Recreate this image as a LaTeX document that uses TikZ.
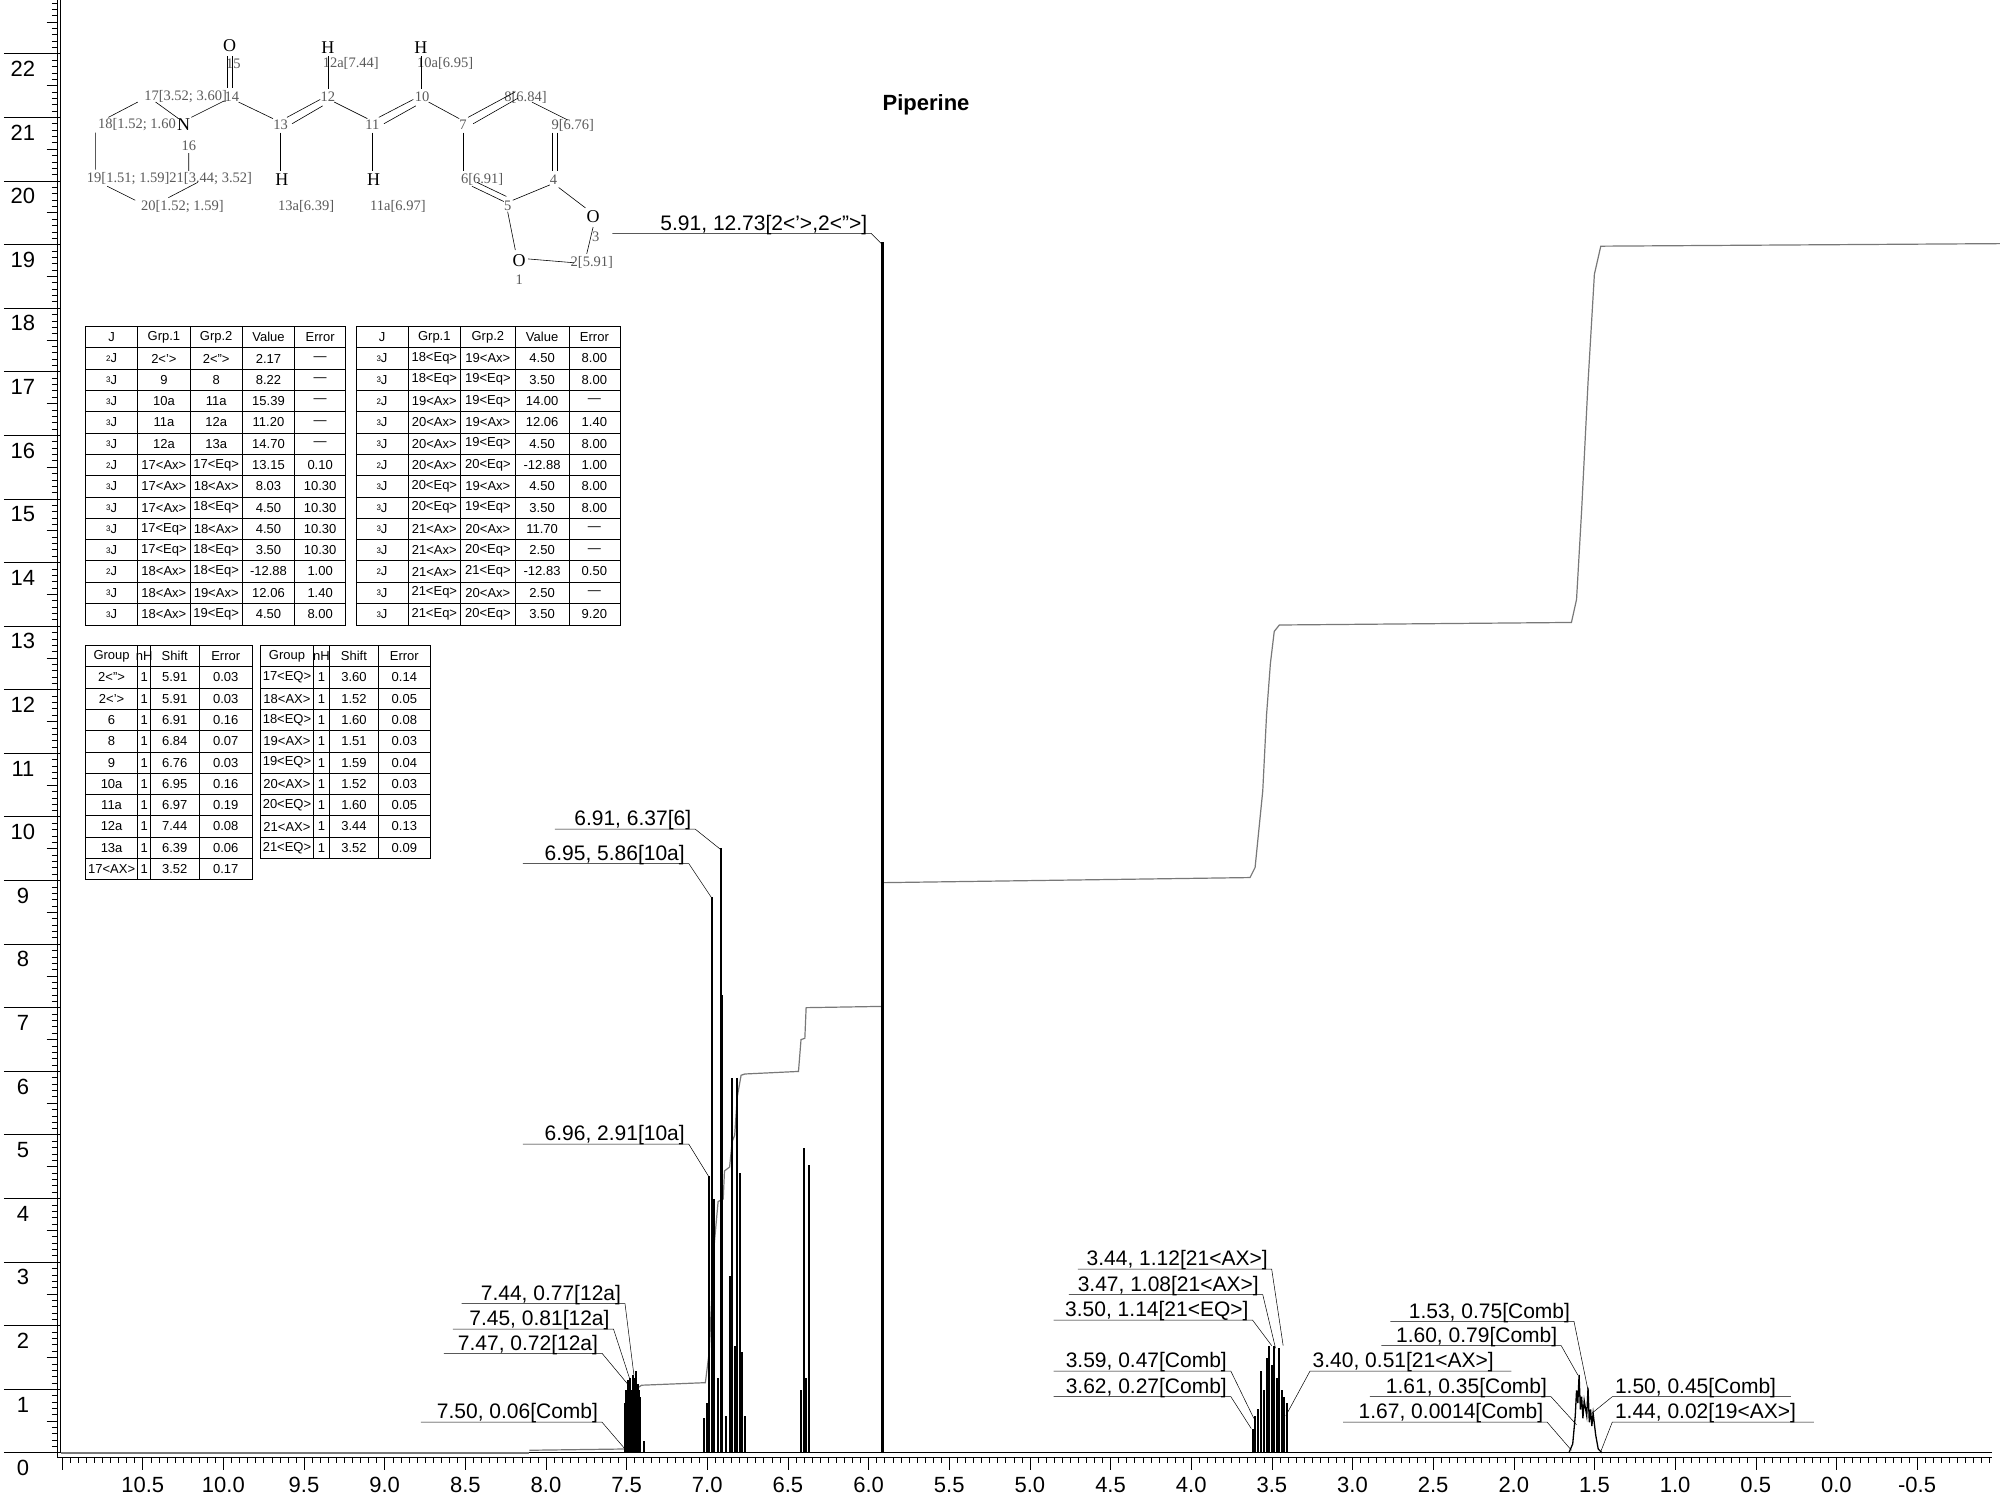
\documentclass[tikz,border=0pt]{standalone}
\usepackage{fontspec}
\setmainfont{Liberation Sans}
\newfontfamily\serf{Liberation Serif}
\definecolor{intg}{RGB}{120,120,120}
\definecolor{sgray}{RGB}{90,90,90}
\newcommand\sJ[1]{\raisebox{0.2ex}{\fontsize{8}{8}\selectfont #1}J}
\newcommand\pl[7]{\draw[lead] (#3,#5)--(#4,#5)--(#6,#7);\node[lbl,anchor=south east] (#1) at (#4-3,#5+1) {#2};}
\newcommand\pr[7]{\draw[lead] (#4,#5)--(#3,#5)--(#6,#7);\node[lbl,anchor=south west] (#1) at (#3+2,#5+1) {#2};}
\begin{document}
\begin{tikzpicture}[x=1.2755pt,y=-1.2755pt,
 lead/.style={line width=0.5pt,black},
 lbl/.style={inner sep=0pt,font=\fontsize{21}{21}\selectfont},
 peak/.style={line width=2pt,black},
 tb/.style={line width=0.7pt},
 cell/.style={inner sep=0pt,font=\fontsize{13}{13}\selectfont},
 st/.style={inner sep=0pt,text=sgray,font=\serf\fontsize{14.5}{14.5}\selectfont},
 atm/.style={inner sep=0pt,text=black,font=\serf\fontsize{18}{18}\selectfont},
 bd/.style={line width=0.6pt,black}]
\useasboundingbox[fill=white] (0,0) rectangle (1568,1173);
% ---- axes
\draw[line width=0.8pt] (44.7,0)--(44.7,1142.3)--(1562,1142.3);
\draw[line width=0.8pt] (47.6,0)--(47.6,1139);
\foreach \v in {0,...,22}{
 \draw[line width=0.7pt] (3,1139-\v*49.86)--(47.6,1139-\v*49.86);
 \node[font=\fontsize{22}{22}\selectfont,inner sep=0pt] (yl\v) at (18,1151-\v*49.86) {\v};}
\foreach \k in {1,...,228}{
 \pgfmathtruncatemacro\m{mod(\k,10)}
 \ifnum\m=5 \def\tl{11}\else\def\tl{7}\fi
 \ifnum\m=0 \else \draw[line width=0.5pt] (47.6-\tl,1139-\k*4.986)--(44.7,1139-\k*4.986);\fi}
\foreach \k in {0,...,239}{
 \pgfmathtruncatemacro\m{mod(\k,10)}
 \ifnum\m=0 \def\tl{10}\else\def\tl{4.5}\fi
 \draw[line width=0.5pt] (111.9+\k*6.323-63.23,1142.3)--(111.9+\k*6.323-63.23,1142.3+\tl);}
\foreach \p [count=\i] in {10.5,10.0,9.5,9.0,8.5,8.0,7.5,7.0,6.5,6.0,5.5,5.0,4.5,4.0,3.5,3.0,2.5,2.0,1.5,1.0,0.5,0.0,-0.5}{
 \node[font=\fontsize{22}{22}\selectfont,inner sep=0pt] (xl\i) at (111.9+\i*63.23-63.23,1164) {\p};}
% ---- baseline and integral
\draw[intg,line width=1.4pt] (47.6,1139)--(415,1139);
\draw[black,line width=1.2pt] (415,1139)--(1562,1139);
\draw[intg,line width=1.2pt] (415,1137)--(490,1136)--(492,1130)--(497,1100)--(500,1088)--(503,1086)--(553,1084)--(556,1060)--(560,975)--(563,942)--(567,940)--(568,918)--(572,915)--(574,895)--(576,890)--(578,860)--(581,843)--(584,842)--(626,840)--(628,815)--(631,814)--(632,790)--(692,789)--(692,692)--(980,688)--(984,680)--(988,640)--(990,620)--(993,560)--(996,520)--(999,495)--(1003,490)--(1232,488)--(1236,470)--(1240,400)--(1245,300)--(1250,215)--(1255,193)--(1568,191);
% ---- peaks
\foreach \x/\t in {490/1100,491/1090,492/1082,493/1085,494/1080,495/1090,496/1078,497/1080,498/1088,499/1075,500/1085,501/1090,502/1095,505/1130,
 552/1112,554/1100,556/922,558/703,560/940,563/1080,565/665,566/780,569/1110,
 572/1000,574/845,576/1055,578/845,580/920,582/1060,584/1110,
 628/1090,630/900,632/1080,634/913,
 692/190,
 982/1120,984/1110,986/1105,989/1075,991/1090,993/1065,995/1055,997/1070,999/1055,1001/1080,1003/1057,1005/1090,1007/1095,1009/1100}{
 \draw[peak] (\x,1139)--(\x,\t);}
\draw[peak,line width=3pt] (692,1139)--(692,190);
\draw[black,line width=1.3pt] (1230,1139)--(1233,1132)--(1235,1110)--(1236,1090)--(1237,1100)--(1238,1078)--(1239,1105)--(1240,1095)--(1241,1112)--(1242,1098)--(1244,1110)--(1245,1088)--(1246,1115)--(1247,1105)--(1248,1118)--(1249,1108)--(1251,1125)--(1253,1136)--(1256,1139);
% ---- peak labels
\pl{a1}{5.91, 12.73[2<\symbol{39}>,2<\symbol{34}>]}{480}{683}{183}{692}{192}
\pl{a2}{6.91, 6.37[6]}{435}{545}{650}{565}{666}
\pl{a3}{6.95, 5.86[10a]}{410}{540}{677}{558}{704}
\pl{a4}{6.96, 2.91[10a]}{410}{540}{897}{556}{923}
\pl{a5}{7.44, 0.77[12a]}{362}{490}{1022}{497}{1078}
\pl{a6}{7.45, 0.81[12a]}{355}{481}{1042}{494}{1082}
\pl{a7}{7.47, 0.72[12a]}{348}{472}{1061}{492}{1085}
\pl{a8}{7.50, 0.06[Comb]}{330}{472}{1115}{490}{1136}
\pl{b1}{3.44, 1.12[21<AX>]}{845}{997}{995}{1006}{1055}
\pl{b2}{3.47, 1.08[21<AX>]}{838}{990}{1015}{1000}{1057}
\pl{b3}{3.50, 1.14[21<EQ>]}{826}{982}{1035}{997}{1055}
\pl{b4}{3.59, 0.47[Comb]}{826}{965}{1075}{983}{1112}
\pl{b5}{3.62, 0.27[Comb]}{826}{965}{1095}{981}{1120}
\pr{b6}{3.40, 0.51[21<AX>]}{1027}{1185}{1075}{1008}{1110}
\pl{c1}{1.53, 0.75[Comb]}{1090}{1234}{1036}{1245}{1090}
\pl{c2}{1.60, 0.79[Comb]}{1083}{1224}{1055}{1237}{1078}
\pl{c3}{1.61, 0.35[Comb]}{1074}{1216}{1095}{1236}{1117}
\pl{c4}{1.67, 0.0014[Comb]}{1053}{1213}{1115}{1232}{1137}
\pr{c5}{1.50, 0.45[Comb]}{1264}{1404}{1095}{1248}{1108}
\pr{c6}{1.44, 0.02[19<AX>]}{1264}{1422}{1115}{1255}{1138}
% ---- title
\node[font=\bfseries\fontsize{22}{22}\selectfont,inner sep=0pt] (title) at (726,82) {Piperine};
% ---- J tables
\foreach \xa/\xb in {67/271,279/486}{\draw[tb] (\xa,256) rectangle (\xb,490);
 \foreach \k in {1,...,13}{\draw[tb] (\xa,256+\k*16.7)--(\xb,256+\k*16.7);}}
\foreach \x in {108,149,190,231,320,361,404,446}{\draw[tb] (\x,256)--(\x,490);}
\foreach \a/\b/\c/\d/\e [count=\i] in {J/Grp.1/Grp.2/Value/Error,
 \sJ2/2<\symbol{39}>/2<\symbol{34}>/2.17/---,
 \sJ3/9/8/8.22/---,\sJ3/10a/11a/15.39/---,\sJ3/11a/12a/11.20/---,\sJ3/12a/13a/14.70/---,
 \sJ2/17<Ax>/17<Eq>/13.15/0.10,\sJ3/17<Ax>/18<Ax>/8.03/10.30,\sJ3/17<Ax>/18<Eq>/4.50/10.30,
 \sJ3/17<Eq>/18<Ax>/4.50/10.30,\sJ3/17<Eq>/18<Eq>/3.50/10.30,\sJ2/18<Ax>/18<Eq>/-12.88/1.00,
 \sJ3/18<Ax>/19<Ax>/12.06/1.40,\sJ3/18<Ax>/19<Eq>/4.50/8.00}{
 \node[cell] (ja\i) at (87.5,247.65+\i*16.7) {\a};
 \node[cell] (jb\i) at (128.5,247.65+\i*16.7) {\b};
 \node[cell] (jc\i) at (169.5,247.65+\i*16.7) {\c};
 \node[cell] (jd\i) at (210.5,247.65+\i*16.7) {\d};
 \node[cell] (je\i) at (251,247.65+\i*16.7) {\e};}
\foreach \a/\b/\c/\d/\e [count=\i] in {J/Grp.1/Grp.2/Value/Error,
 \sJ3/18<Eq>/19<Ax>/4.50/8.00,\sJ3/18<Eq>/19<Eq>/3.50/8.00,\sJ2/19<Ax>/19<Eq>/14.00/---,
 \sJ3/20<Ax>/19<Ax>/12.06/1.40,\sJ3/20<Ax>/19<Eq>/4.50/8.00,\sJ2/20<Ax>/20<Eq>/-12.88/1.00,
 \sJ3/20<Eq>/19<Ax>/4.50/8.00,\sJ3/20<Eq>/19<Eq>/3.50/8.00,\sJ3/21<Ax>/20<Ax>/11.70/---,
 \sJ3/21<Ax>/20<Eq>/2.50/---,\sJ2/21<Ax>/21<Eq>/-12.83/0.50,\sJ3/21<Eq>/20<Ax>/2.50/---,
 \sJ3/21<Eq>/20<Eq>/3.50/9.20}{
 \node[cell] (ka\i) at (299.5,247.65+\i*16.7) {\a};
 \node[cell] (kb\i) at (340.5,247.65+\i*16.7) {\b};
 \node[cell] (kc\i) at (382.5,247.65+\i*16.7) {\c};
 \node[cell] (kd\i) at (425,247.65+\i*16.7) {\d};
 \node[cell] (ke\i) at (466,247.65+\i*16.7) {\e};}
% ---- shift tables
\draw[tb] (67,506) rectangle (198,689.7);
\foreach \k in {1,...,10}{\draw[tb] (67,506+\k*16.7)--(198,506+\k*16.7);}
\foreach \x in {108,118,156}{\draw[tb] (\x,506)--(\x,689.7);}
\draw[tb] (204,506) rectangle (337,673);
\foreach \k in {1,...,9}{\draw[tb] (204,506+\k*16.7)--(337,506+\k*16.7);}
\foreach \x in {246,258,297}{\draw[tb] (\x,506)--(\x,673);}
\foreach \a/\b/\c/\d [count=\i] in {Group/nH/Shift/Error,2<\symbol{34}>/1/5.91/0.03,2<\symbol{39}>/1/5.91/0.03,
 6/1/6.91/0.16,8/1/6.84/0.07,9/1/6.76/0.03,10a/1/6.95/0.16,11a/1/6.97/0.19,12a/1/7.44/0.08,
 13a/1/6.39/0.06,17<AX>/1/3.52/0.17}{
 \node[cell] (sa\i) at (87.5,497.65+\i*16.7) {\a};
 \node[cell] (sb\i) at (113,497.65+\i*16.7) {\b};
 \node[cell] (sc\i) at (137,497.65+\i*16.7) {\c};
 \node[cell] (sd\i) at (177,497.65+\i*16.7) {\d};}
\foreach \a/\b/\c/\d [count=\i] in {Group/nH/Shift/Error,17<EQ>/1/3.60/0.14,18<AX>/1/1.52/0.05,
 18<EQ>/1/1.60/0.08,19<AX>/1/1.51/0.03,19<EQ>/1/1.59/0.04,20<AX>/1/1.52/0.03,20<EQ>/1/1.60/0.05,
 21<AX>/1/3.44/0.13,21<EQ>/1/3.52/0.09}{
 \node[cell] (ta\i) at (225,497.65+\i*16.7) {\a};
 \node[cell] (tb\i) at (252,497.65+\i*16.7) {\b};
 \node[cell] (tc\i) at (277.5,497.65+\i*16.7) {\c};
 \node[cell] (td\i) at (317,497.65+\i*16.7) {\d};}
% ---- structure
\node[atm] (O15) at (180,36) {O};
\node[st] (n15) at (183,50) {15};
\node[st,anchor=east] (n17) at (178,76) {17[3.52; 3.60]};
\node[st,anchor=west] (n14) at (176,76) {14};
\node[atm] (N16) at (144,98) {N};
\node[st,anchor=east] (n18) at (138,98) {18[1.52; 1.60};
\node[st] (n16) at (148,114) {16};
\node[st,anchor=west] (n19) at (68,140) {19[1.51; 1.59]21[3.44; 3.52]};
\node[st] (n20) at (143,162) {20[1.52; 1.59]};
\node[st] (n13) at (220,98) {13};
\node[atm] (H13) at (221,141) {H};
\node[st] (n13a) at (240,162) {13a[6.39]};
\node[atm] (H12) at (257,37) {H};
\node[st] (n12a) at (275,50) {12a[7.44]};
\node[st] (n12) at (257,76) {12};
\node[st] (n11) at (292,98) {11};
\node[atm] (H11) at (293,141) {H};
\node[st] (n11a) at (312,162) {11a[6.97]};
\node[atm] (H10) at (330,37) {H};
\node[st] (n10a) at (349,50) {10a[6.95]};
\node[st] (n10) at (331,76) {10};
\node[st] (n7) at (363,98) {7};
\node[st] (n8) at (412,76) {8[6.84]};
\node[st] (n9) at (449,98) {9[6.76]};
\node[st] (n6) at (378,141) {6[6.91]};
\node[st] (n4) at (434,141) {4};
\node[st] (n5) at (398,161) {5};
\node[atm] (O3) at (465,170) {O};
\node[st] (n3) at (467,186) {3};
\node[st] (n2) at (464,206) {2[5.91]};
\node[atm] (O1) at (407,204) {O};
\node[st] (n1) at (407,219) {1};
\draw[bd] (178,44)--(178,69) (182,44)--(182,69);
\draw[bd] (85,92)--(108,80) (122,80)--(140,93) (150,92)--(176,79);
\draw[bd] (75,104)--(75,133) (84,146)--(106,157) (132,155)--(155,143) (148,120)--(148,134);
\draw[bd] (187,80)--(214,93) (225,92)--(251,78) (229,97)--(253,83);
\draw[bd] (262,80)--(288,93) (297,92)--(324,78) (301,97)--(326,83);
\draw[bd] (336,80)--(360,93) (367,92)--(404,72) (371,97)--(406,77) (417,80)--(445,94);
\draw[bd] (433,104)--(433,134) (437,104)--(437,134) (363,104)--(363,134);
\draw[bd] (370,146)--(395,158) (374,143)--(397,154) (402,157)--(431,145);
\draw[bd] (438,147)--(459,163) (465,178)--(460,199) (414,203)--(450,206) (398,166)--(404,196);
\draw[bd] (257,44)--(257,70) (330,44)--(330,70) (220,104)--(220,134) (292,104)--(292,134);
\end{tikzpicture}
\end{document}
